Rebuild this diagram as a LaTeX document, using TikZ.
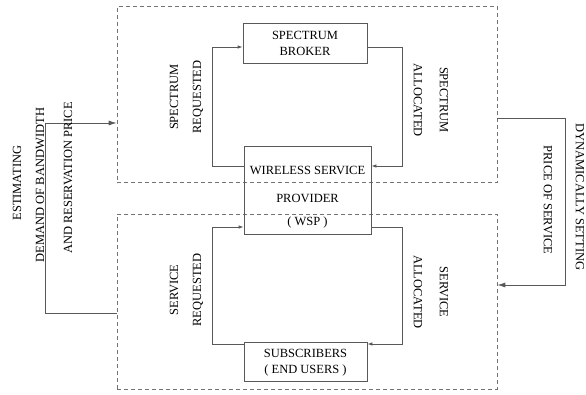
\documentclass[tikz,border=0pt]{standalone}
\usepackage{fontspec}
\setmainfont{Liberation Serif}
\usetikzlibrary{arrows.meta}
\definecolor{linec}{gray}{0.35}
\definecolor{dashc}{gray}{0.45}
\begin{document}
\begin{tikzpicture}[x=1pt,y=-1pt,
 box/.style={draw=linec, line width=0.8pt, inner sep=0pt},
 region/.style={draw=dashc, dash pattern=on 4pt off 3pt, line width=0.7pt, inner sep=0pt},
 conn/.style={draw=linec, line width=0.8pt},
 arr/.style={conn, -{Latex[length=5pt,width=3.5pt]}},
 bigarr/.style={conn, -{Latex[length=8pt,width=5pt]}},
 lbl/.style={font=\fontsize{12.5}{15}\selectfont, inner sep=0pt},
]
\useasboundingbox (0,0) rectangle (586,394);
% regions
\node[region, minimum width=380pt, minimum height=176.5pt] (top) at (307,94.25) {};
\node[region, minimum width=380pt, minimum height=175pt] (bot) at (307,301.5) {};
% boxes
\node[box, minimum width=124pt, minimum height=40pt] (broker) at (305,43) {};
\node[box, minimum width=127pt, minimum height=88pt] (wsp) at (307.5,190) {};
\node[box, minimum width=123pt, minimum height=39pt] (subs) at (305.5,361.5) {};
% box texts
\node[lbl] (b1) at (305,35) {SPECTRUM};
\node[lbl] (b2) at (305,51) {BROKER};
\node[lbl] (w1) at (307.5,170.7) {WIRELESS SERVICE};
\node[lbl] (w2) at (307.5,198) {PROVIDER};
\node[lbl] (w3) at (307.5,222.7) {( WSP )};
\node[lbl] (s1) at (305.5,353) {SUBSCRIBERS};
\node[lbl] (s2) at (305.5,370) {( END USERS )};
% corner coordinates
\coordinate (uL) at (212,47); \coordinate (uR) at (402,47);
\coordinate (mL) at (212,166); \coordinate (mR) at (402,166);
\coordinate (lL) at (212,227); \coordinate (lR) at (402,227);
\coordinate (bL) at (212,344); \coordinate (bR) at (402,344);
\coordinate (oL1) at (45,123); \coordinate (oL2) at (45,313);
\coordinate (oR1) at (565,118); \coordinate (oR2) at (565,285);
% inner connectors
\draw[arr] (wsp.west |- mL) -| (uL) -- (broker.west |- uL);
\draw[arr] (broker.east |- uR) -| (mR) -- (wsp.east |- mR);
\draw[arr] (subs.west |- bL) -| (lL) -- (wsp.west |- lL);
\draw[arr] (wsp.east |- lR) -| (bR) -- (subs.east |- bR);
% outer connectors
\draw[bigarr] (bot.west |- oL2) -| (oL1) -- (top.west |- oL1);
\draw[bigarr] (top.east |- oR1) -| (oR2) -- (bot.east |- oR2);
% rotated labels
\node[lbl, rotate=90] (t1) at (174,97) {SPECTRUM};
\node[lbl, rotate=90] (t2) at (198,97) {REQUESTED};
\node[lbl, rotate=-90] (t3) at (444,100) {SPECTRUM};
\node[lbl, rotate=-90] (t4) at (418,100) {ALLOCATED};
\node[lbl, rotate=90] (t5) at (174,290) {SERVICE};
\node[lbl, rotate=90] (t6) at (198,290) {REQUESTED};
\node[lbl, rotate=-90] (t7) at (444,292) {SERVICE};
\node[lbl, rotate=-90] (t8) at (418,292) {ALLOCATED};
\node[lbl, rotate=90] (e1) at (17,183) {ESTIMATING};
\node[lbl, rotate=90] (e2) at (40,185) {DEMAND OF BANDWIDTH};
\node[lbl, rotate=90] (e3) at (68,178) {AND RESERVATION PRICE};
\node[lbl, rotate=-90] (d1) at (580,197) {DYNAMICALLY SETTING};
\node[lbl, rotate=-90] (d2) at (548,200) {PRICE OF SERVICE};
\end{tikzpicture}
\end{document}
